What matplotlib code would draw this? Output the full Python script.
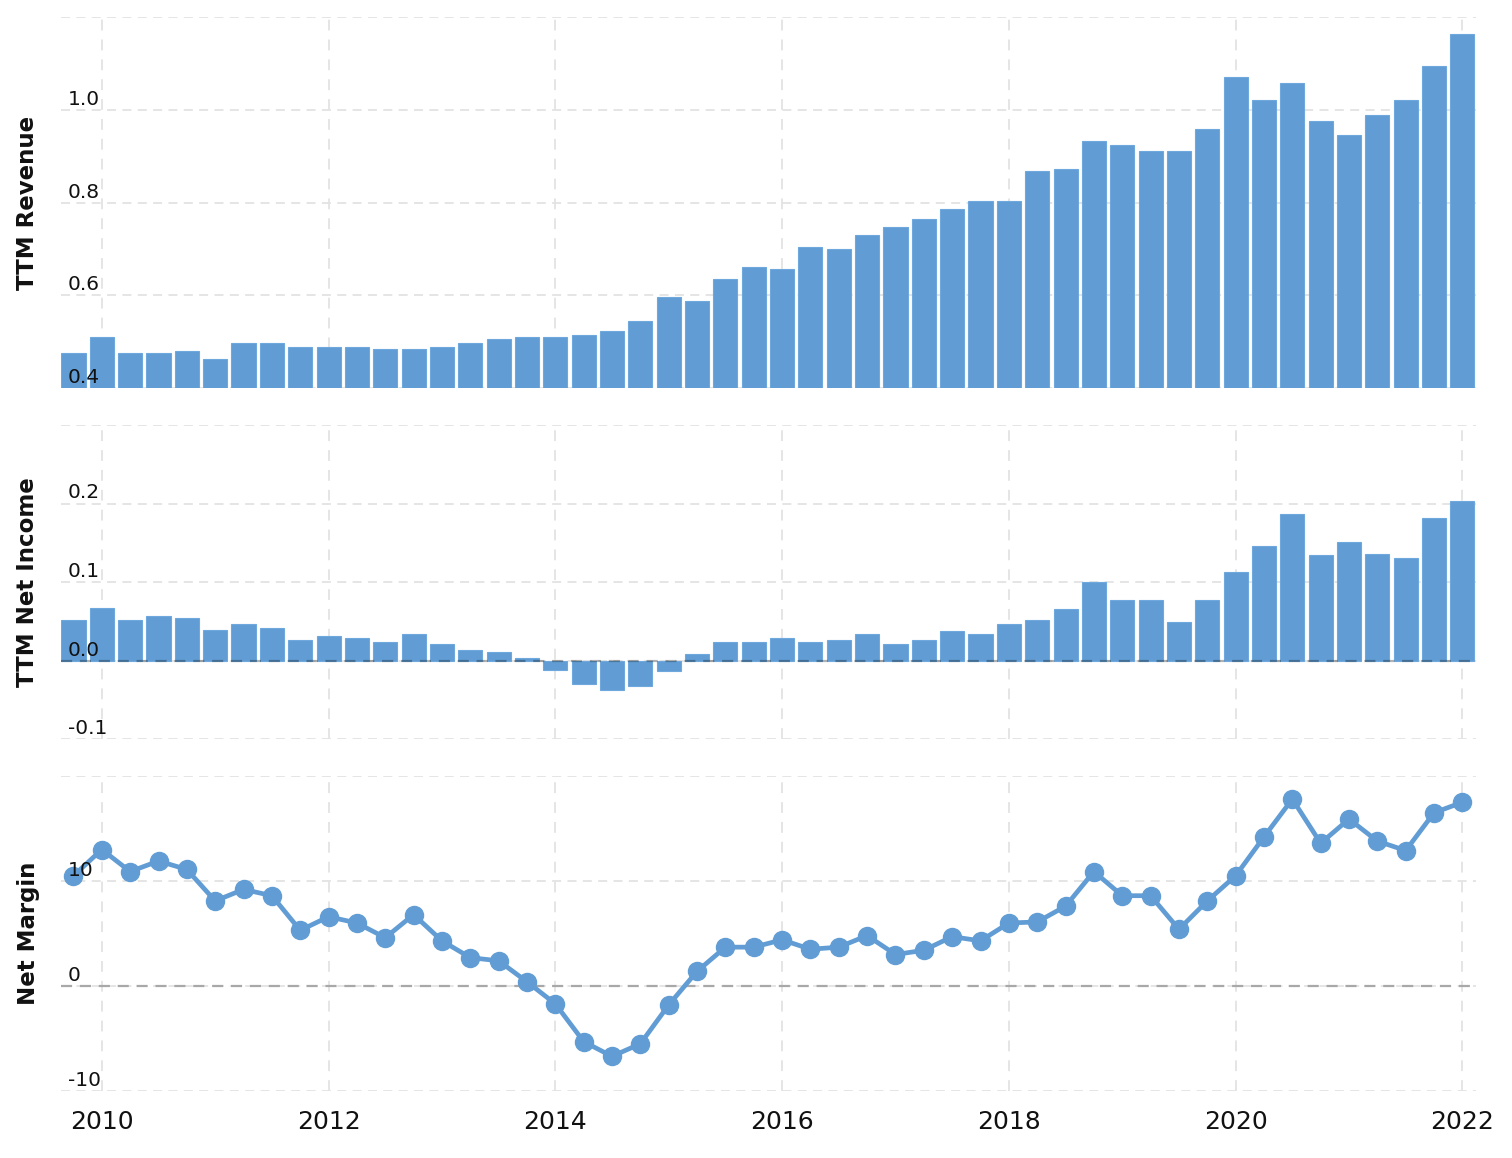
import matplotlib
matplotlib.use("Agg")
import matplotlib.pyplot as plt
import matplotlib.transforms as mtransforms
import numpy as np

# ---- data (quarterly, 2009.75 .. 2022.00) ----
start_year = 2009.75
revenue = [0.476, 0.510, 0.476, 0.476, 0.480, 0.463, 0.497, 0.497, 0.489, 0.489,
           0.489, 0.484, 0.484, 0.489, 0.497, 0.506, 0.510, 0.510, 0.515, 0.523,
           0.545, 0.596, 0.588, 0.635, 0.661, 0.657, 0.704, 0.700, 0.730, 0.747,
           0.764, 0.786, 0.803, 0.803, 0.867, 0.872, 0.932, 0.923, 0.910, 0.910,
           0.958, 1.070, 1.022, 1.057, 0.975, 0.945, 0.988, 1.022, 1.095, 1.164]
net_income = [0.052, 0.067, 0.052, 0.057, 0.054, 0.039, 0.047, 0.042, 0.026, 0.031,
              0.029, 0.024, 0.034, 0.021, 0.014, 0.011, 0.003, -0.012, -0.030, -0.037,
              -0.032, -0.014, 0.0085, 0.024, 0.024, 0.029, 0.024, 0.026, 0.034, 0.021,
              0.026, 0.037, 0.034, 0.047, 0.052, 0.065, 0.100, 0.077, 0.077, 0.049,
              0.077, 0.113, 0.146, 0.187, 0.134, 0.151, 0.136, 0.131, 0.182, 0.203]
net_margin = [10.5, 13.0, 10.9, 11.9, 11.1, 8.1, 9.2, 8.6, 5.3, 6.6,
              6.0, 4.6, 6.8, 4.3, 2.7, 2.4, 0.4, -1.7, -5.3, -6.7,
              -5.5, -1.8, 1.4, 3.7, 3.7, 4.4, 3.5, 3.7, 4.8, 3.0,
              3.4, 4.7, 4.3, 6.0, 6.1, 7.6, 10.9, 8.6, 8.6, 5.4,
              8.1, 10.5, 14.2, 17.8, 13.6, 15.9, 13.8, 12.9, 16.5, 17.5]
dates = start_year + 0.25 * np.arange(len(revenue))

x_ticks = [2010, 2012, 2014, 2016, 2018, 2020, 2022]
rev_ticks = [0.4, 0.6, 0.8, 1.0, 1.2]
rev_labels = ["0.4", "0.6", "0.8", "1.0", ""]
ni_ticks = [-0.1, 0.0, 0.1, 0.2, 0.3]
ni_labels = ["-0.1", "0.0", "0.1", "0.2", ""]
nm_ticks = [-10, 0, 10, 20]
nm_labels = ["-10", "0", "10", ""]

BLUE = "#619dd4"
EDGE = "#6ea8dd"
GRID = "#e3e3e3"

fig = plt.figure(figsize=(15.12, 11.58), dpi=100)
W, H = 1512, 1158
left, right = 61 / W, 1476 / W

def make_ax(top_px, bot_px):
    return fig.add_axes([left, 1 - bot_px / H, right - left, (bot_px - top_px) / H])

ax1 = make_ax(17, 388)
ax2 = make_ax(425, 739)
ax3 = make_ax(776, 1091)

xlim = (2009.64, 2022.12)

def style(ax, yticks, ylabels, ylim, label):
    ax.set_xlim(*xlim)
    ax.set_ylim(*ylim)
    for s in ax.spines.values():
        s.set_visible(False)
    ax.set_yticks(yticks)
    ax.set_xticks(x_ticks)
    ax.tick_params(axis="both", length=0)
    ax.tick_params(axis="y", labelleft=False)
    for yv in yticks:
        ax.axhline(yv, color=GRID, lw=1.3, ls=(0, (5, 3.5)), zorder=0)
    for xv in x_ticks:
        ax.axvline(xv, color=GRID, lw=1.3, ls=(0, (6, 5)), zorder=0)
    trans = mtransforms.blended_transform_factory(ax.transAxes, ax.transData)
    for yv, lab in zip(yticks, ylabels):
        if lab:
            ax.annotate(lab, xy=(0.005, yv), xycoords=trans, xytext=(0, 5),
                        textcoords="offset pixels", ha="left", va="baseline",
                        fontsize=14.5, color="#111111", zorder=5)
    pos = ax.get_position()
    fig.text(28 / W, (pos.y0 + pos.y1) / 2, label, rotation=90, ha="center",
             va="center", fontsize=16.5, fontweight="bold", color="#111111")

bar_w = 0.25 * 0.85

# Panel 1: revenue
style(ax1, rev_ticks, rev_labels, (0.4, 1.2), "TTM Revenue")
ax1.bar(dates, np.array(revenue) - 0.4, bottom=0.4, width=bar_w, color=BLUE,
        edgecolor=EDGE, linewidth=0.8, zorder=2)
ax1.tick_params(axis="x", labelbottom=False)

# Panel 2: net income
style(ax2, ni_ticks, ni_labels, (-0.1, 0.3), "TTM Net Income")
ax2.bar(dates, net_income, width=bar_w, color=BLUE, edgecolor=EDGE,
        linewidth=0.8, zorder=2)
ax2.axhline(0, color="black", alpha=0.3, lw=1.6, ls=(0, (5, 3.5)), zorder=3)
ax2.tick_params(axis="x", labelbottom=False)

# Panel 3: net margin
style(ax3, nm_ticks, nm_labels, (-10, 20), "Net Margin")
ax3.axhline(0, color="#a8a8a8", lw=1.6, ls=(0, (5, 3.5)), zorder=1)
ax3.plot(dates, net_margin, color=BLUE, lw=3.4, marker="o", markersize=13,
         markerfacecolor=BLUE, markeredgecolor=BLUE, zorder=3, clip_on=False)
ax3.set_xticklabels([str(x) for x in x_ticks])
ax3.tick_params(axis="x", labelsize=18, pad=14, labelcolor="#111111")

fig.savefig("out.png", dpi=100, facecolor="white")
